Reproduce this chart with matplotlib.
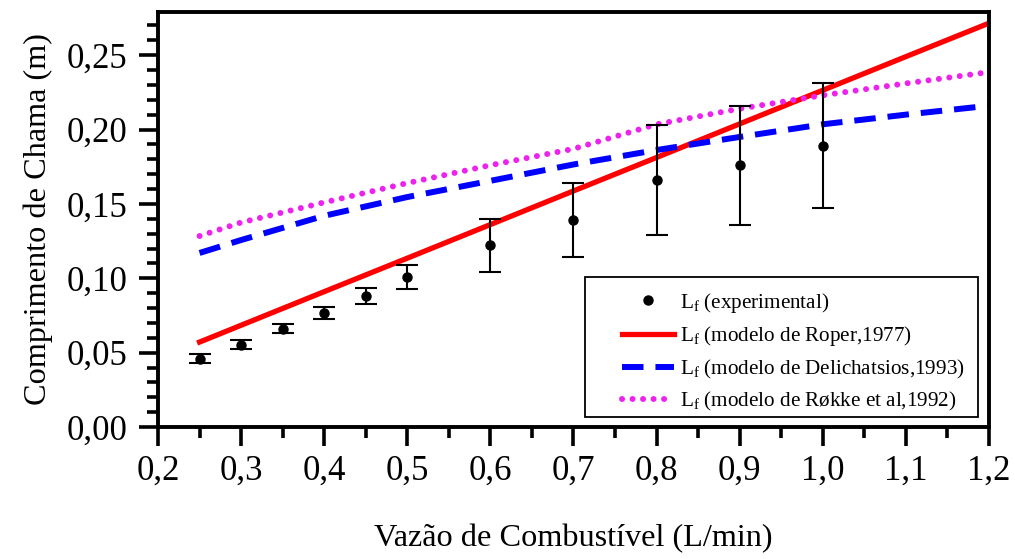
import matplotlib
matplotlib.use("Agg")
import matplotlib.pyplot as plt
from matplotlib.patches import Rectangle
from matplotlib.ticker import MultipleLocator, FixedLocator, FixedFormatter

# ---------------- data ----------------
q_exp = [0.25, 0.30, 0.35, 0.40, 0.45, 0.50, 0.60, 0.70, 0.80, 0.90, 1.00]
lf_exp = [0.0460, 0.0552, 0.0660, 0.0766, 0.0882, 0.1010, 0.1222, 0.1390, 0.1660, 0.1760, 0.1890]
lf_err = [0.0030, 0.0030, 0.0030, 0.0040, 0.0052, 0.0082, 0.0178, 0.0250, 0.0370, 0.0400, 0.0420]

q_model = [0.25, 0.30, 0.40, 0.50, 0.60, 0.70, 0.80, 0.90, 1.00, 1.10, 1.20]
lf_roper = [0.0571, 0.0684, 0.0910, 0.1135, 0.1361, 0.1587, 0.1812, 0.2038, 0.2264, 0.2490, 0.2715]
lf_delich = [0.1170, 0.1257, 0.1420, 0.1546, 0.1655, 0.1765, 0.1862, 0.1950, 0.2035, 0.2100, 0.2160]
lf_rokke = [0.1284, 0.1375, 0.1510, 0.1640, 0.1760, 0.1870, 0.2035, 0.2140, 0.2230, 0.2310, 0.2386]

labels = [r"$\mathregular{L_f}$ (experimental)",
          r"$\mathregular{L_f}$ (modelo de Roper,1977)",
          r"$\mathregular{L_f}$ (modelo de Delichatsios,1993)",
          r"$\mathregular{L_f}$ (modelo de Røkke et al,1992)"]

x_ticks = [0.2, 0.3, 0.4, 0.5, 0.6, 0.7, 0.8, 0.9, 1.0, 1.1, 1.2]
x_tick_labels = ["0,2", "0,3", "0,4", "0,5", "0,6", "0,7", "0,8", "0,9", "1,0", "1,1", "1,2"]
y_ticks = [0.00, 0.05, 0.10, 0.15, 0.20, 0.25]
y_tick_labels = ["0,00", "0,05", "0,10", "0,15", "0,20", "0,25"]

x_label = "Vazão de Combustível (L/min)"
y_label = "Comprimento de Chama (m)"

# ---------------- style ----------------
plt.rcParams['font.family'] = ['Liberation Serif', 'DejaVu Serif']
plt.rcParams['mathtext.fontset'] = 'custom'
plt.rcParams['mathtext.rm'] = 'Liberation Serif'
plt.rcParams['mathtext.it'] = 'Liberation Serif:italic'

fig = plt.figure(figsize=(10.15, 5.59), dpi=100)
ax = fig.add_axes([158/1015, 1 - 427/559, (989-158)/1015, (427-12)/559])

ax.errorbar(q_exp, lf_exp, yerr=lf_err, fmt='none', ecolor='black',
            elinewidth=1.5, capsize=8, capthick=1.5, zorder=3)
h_exp, = ax.plot(q_exp, lf_exp, 'o', color='black', markersize=6.5, linestyle='none', zorder=4)
h_rop, = ax.plot(q_model, lf_roper, '-', color='#ff0000', linewidth=3.8, zorder=2)
h_del, = ax.plot(q_model, lf_delich, color='#0000ff', linewidth=4.3,
                 linestyle=(0, (3.6, 2.0)), zorder=2)
h_rok, = ax.plot(q_model, lf_rokke, color='#ee22ee', linewidth=4.3,
                 linestyle=(0, (0.01, 1.75)), dash_capstyle='round', zorder=2)

ax.set_xlim(0.2, 1.2)
ax.set_ylim(0.0, 0.279)

ax.xaxis.set_major_locator(FixedLocator(x_ticks))
ax.xaxis.set_major_formatter(FixedFormatter(x_tick_labels))
ax.yaxis.set_major_locator(FixedLocator(y_ticks))
ax.yaxis.set_major_formatter(FixedFormatter(y_tick_labels))
ax.xaxis.set_minor_locator(MultipleLocator(0.05))
ax.yaxis.set_minor_locator(MultipleLocator(0.01))

ax.tick_params(which='major', direction='out', length=14, width=2.6, labelsize=25)
ax.tick_params(which='minor', direction='out', length=8, width=2.6)
ax.tick_params(axis='x', which='major', pad=6)
ax.tick_params(axis='y', which='major', pad=8)
for s in ax.spines.values():
    s.set_linewidth(2.8)

ax.set_xlabel(x_label, fontsize=23.2, labelpad=26)
ax.set_ylabel(y_label, fontsize=23.2, labelpad=10)

# legend frame drawn as a separate box (wider left padding, as in the original)
frame = Rectangle((0.5138, 0.0241), 0.9868 - 0.5138, 0.3614 - 0.0241,
                  transform=ax.transAxes, facecolor='white', edgecolor='black',
                  linewidth=1.3, zorder=5)
ax.add_patch(frame)

leg = ax.legend([h_exp, h_rop, h_del, h_rok], labels, loc='lower right',
                bbox_to_anchor=(0.987, 0.0), borderaxespad=0, fontsize=15.2,
                frameon=False, handlelength=2.5, handletextpad=0.25,
                labelspacing=0.45, borderpad=0.65)
leg.set_zorder(6)

fig.savefig("out.png", dpi=100)
